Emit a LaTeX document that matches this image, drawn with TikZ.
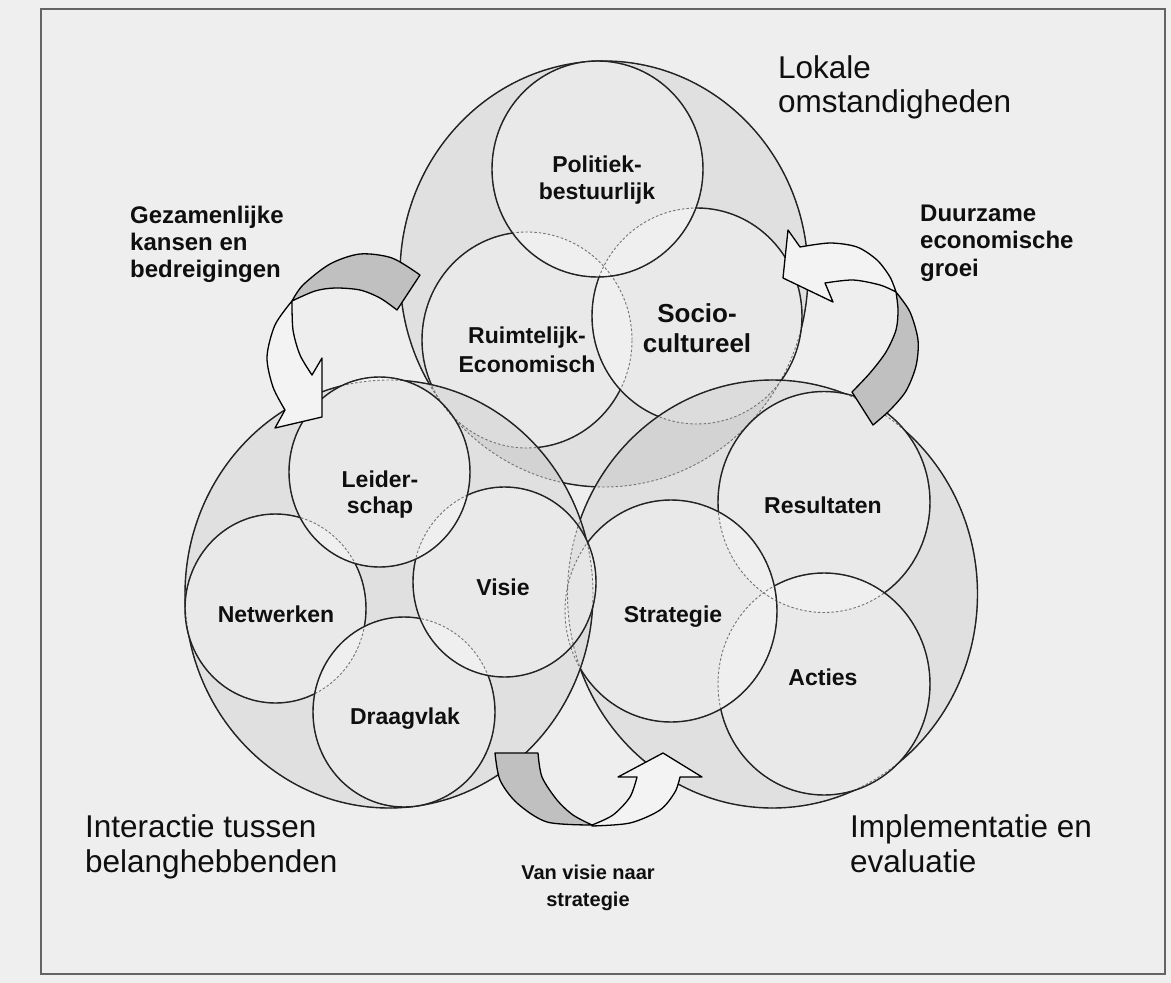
\documentclass[tikz,border=0pt]{standalone}
\usepackage{fontspec}
\setmainfont{Liberation Sans}
\definecolor{bgc}{RGB}{239,239,239}
\definecolor{framec}{RGB}{100,100,100}
\definecolor{innerc}{RGB}{238,238,238}
\definecolor{linec}{RGB}{35,35,35}
\definecolor{hidc}{RGB}{115,115,115}
\definecolor{arrgray}{RGB}{192,192,192}
\definecolor{arrwhite}{RGB}{243,243,243}
\definecolor{txtc}{RGB}{15,15,15}
% shapes (image coordinates, y downwards)
\newcommand{\EbT}{(604,274) ellipse [x radius=204pt, y radius=213pt]}
\newcommand{\EsR}{(527,340) ellipse [x radius=105pt, y radius=108pt]}
\newcommand{\EsS}{(697,316) ellipse [x radius=105pt, y radius=108pt]}
\newcommand{\EsP}{(597.5,169) ellipse [x radius=105.5pt, y radius=108pt]}
\newcommand{\EbR}{(772.5,594) ellipse [x radius=205pt, y radius=214pt]}
\newcommand{\EsRe}{(824,502) ellipse [x radius=106pt, y radius=110.5pt]}
\newcommand{\EsAc}{(824,684) ellipse [x radius=106pt, y radius=111pt]}
\newcommand{\EsSt}{(671,611) ellipse [x radius=106pt, y radius=111pt]}
\newcommand{\EbL}{(389,594) ellipse [x radius=204pt, y radius=214pt]}
\newcommand{\EsNe}{(275.5,608.5) ellipse [x radius=90.5pt, y radius=94.5pt]}
\newcommand{\EsDr}{(404,712) ellipse [x radius=91pt, y radius=95pt]}
\newcommand{\EsVi}{(504.5,582) ellipse [x radius=91.5pt, y radius=95pt]}
\newcommand{\EsLe}{(379.5,472) ellipse [x radius=90.5pt, y radius=95pt]}
\newcommand{\RR}{(-300,-300) -- (1500,-300) -- (1500,1300) -- (-300,1300) -- cycle}
\newcommand{\cutout}[1]{\clip \RR #1;}
\begin{document}
\begin{tikzpicture}[x=1pt,y=-1pt,
  bigfill/.style={fill=black, fill opacity=0.055},
  smallfill/.style={fill=white, fill opacity=0.31},
  solidline/.style={draw=linec, line width=1.4pt},
  hidline/.style={draw=hidc, line width=0.9pt, dash pattern=on 2.5pt off 2pt},
  arrowpart/.style={draw=black, line width=1.3pt, line join=round},
  biglab/.style={font=\fontsize{31.5}{35}\selectfont, text=txtc, anchor=base west, inner sep=0pt},
  sidelab/.style={font=\bfseries\fontsize{24}{27}\selectfont, text=txtc, anchor=base west, inner sep=0pt},
  inlab/.style={font=\bfseries\fontsize{23}{27}\selectfont, text=txtc, anchor=base, inner sep=0pt},
  soclab/.style={font=\bfseries\fontsize{26}{30}\selectfont, text=txtc, anchor=base, inner sep=0pt},
  vanlab/.style={font=\bfseries\fontsize{20}{26}\selectfont, text=txtc, anchor=base, inner sep=0pt}]
\useasboundingbox (0,0) rectangle (1171,983);
\fill[bgc] (0,0) rectangle (1171,983);
\filldraw[fill=innerc, draw=framec, line width=2pt] (41,9) rectangle (1165,974);
% fills in stacking order
\fill[bigfill] \EbT;
\fill[smallfill] \EsR;
\fill[smallfill] \EsS;
\fill[smallfill] \EsP;
\fill[bigfill] \EbR;
\fill[smallfill] \EsRe;
\fill[smallfill] \EsAc;
\fill[smallfill] \EsSt;
\fill[bigfill] \EbL;
\fill[smallfill] \EsNe;
\fill[smallfill] \EsDr;
\fill[smallfill] \EsVi;
\fill[smallfill] \EsLe;
% hidden (dashed) outlines
\draw[hidline] \EbT; \draw[hidline] \EsR; \draw[hidline] \EsS; \draw[hidline] \EsP;
\draw[hidline] \EbR; \draw[hidline] \EsRe; \draw[hidline] \EsAc; \draw[hidline] \EsSt;
\draw[hidline] \EbL; \draw[hidline] \EsNe; \draw[hidline] \EsDr; \draw[hidline] \EsVi;
\draw[hidline] \EsLe;
% visible (solid) outlines
\begin{scope}\cutout\EsR\cutout\EsS\cutout\EsP\cutout\EbR\cutout\EsRe\cutout\EsAc\cutout\EsSt\cutout\EbL\cutout\EsNe\cutout\EsDr\cutout\EsVi\cutout\EsLe
\draw[solidline] \EbT;\end{scope}
\begin{scope}\cutout\EsS\cutout\EsP\cutout\EbR\cutout\EsRe\cutout\EsAc\cutout\EsSt\cutout\EbL\cutout\EsNe\cutout\EsDr\cutout\EsVi\cutout\EsLe
\draw[solidline] \EsR;\end{scope}
\begin{scope}\cutout\EsP\cutout\EbR\cutout\EsRe\cutout\EsAc\cutout\EsSt\cutout\EbL\cutout\EsNe\cutout\EsDr\cutout\EsVi\cutout\EsLe
\draw[solidline] \EsS;\end{scope}
\begin{scope}\cutout\EbR\cutout\EsRe\cutout\EsAc\cutout\EsSt\cutout\EbL\cutout\EsNe\cutout\EsDr\cutout\EsVi\cutout\EsLe
\draw[solidline] \EsP;\end{scope}
\begin{scope}\cutout\EsRe\cutout\EsAc\cutout\EsSt\cutout\EbL\cutout\EsNe\cutout\EsDr\cutout\EsVi\cutout\EsLe
\draw[solidline] \EbR;\end{scope}
\begin{scope}\cutout\EsAc\cutout\EsSt\cutout\EbL\cutout\EsNe\cutout\EsDr\cutout\EsVi\cutout\EsLe
\draw[solidline] \EsRe;\end{scope}
\begin{scope}\cutout\EsSt\cutout\EbL\cutout\EsNe\cutout\EsDr\cutout\EsVi\cutout\EsLe
\draw[solidline] \EsAc;\end{scope}
\begin{scope}\cutout\EbL\cutout\EsNe\cutout\EsDr\cutout\EsVi\cutout\EsLe
\draw[solidline] \EsSt;\end{scope}
\begin{scope}\cutout\EsNe\cutout\EsDr\cutout\EsVi\cutout\EsLe
\draw[solidline] \EbL;\end{scope}
\begin{scope}\cutout\EsDr\cutout\EsVi\cutout\EsLe
\draw[solidline] \EsNe;\end{scope}
\begin{scope}\cutout\EsVi\cutout\EsLe
\draw[solidline] \EsDr;\end{scope}
\begin{scope}\cutout\EsLe
\draw[solidline] \EsVi;\end{scope}
\draw[solidline] \EsLe;
% curved arrows
\filldraw[arrowpart, fill=arrgray] plot[smooth] coordinates {(292,301) (303,285) (330,264) (360,254) (392,258) (420,275)} -- (397,310) -- plot[smooth] coordinates {(397,310) (380,298) (360,290) (335,288) (315,291) (292,301)} -- cycle;
\filldraw[arrowpart, fill=arrwhite] plot[smooth] coordinates {(292,301) (275,325) (267,357) (273,387) (285,410)} -- (275,428) -- (322,417) -- (322,358) -- (312,375) -- plot[smooth] coordinates {(312,375) (300,355) (293,330) (292,301)} -- cycle;
\filldraw[arrowpart, fill=arrgray] plot[smooth] coordinates {(896,292) (910,312) (918,340) (916,366) (906,391) (890,410) (873,425)} -- (852,392) -- plot[smooth] coordinates {(852,392) (870,373) (886,352) (896,330) (898,310) (896,292)} -- cycle;
\filldraw[arrowpart, fill=arrwhite] (783,278) -- (788,230) -- (800,247) -- plot[smooth] coordinates {(800,247) (830,243) (857,247) (877,260) (890,277) (896,292)} -- plot[smooth] coordinates {(896,292) (880,285) (853,280) (825,283)} -- (833,302) -- cycle;
\filldraw[arrowpart, fill=arrgray] (495,753) -- (538,753) -- plot[smooth] coordinates {(538,753) (542,777) (557,800) (573,815) (592,825)} -- plot[smooth] coordinates {(592,825) (547,822) (517,803) (500,780) (495,753)} -- cycle;
\filldraw[arrowpart, fill=arrwhite] plot[smooth] coordinates {(592,826) (630,823) (660,810) (675,792) (680,777)} -- (702,777) -- (663,753) -- (618,777) -- (637,777) -- plot[smooth] coordinates {(637,777) (630,797) (613,815) (592,825)} -- cycle;
% outer labels
\node[biglab] (lok1) at (778,78) {Lokale};
\node[biglab] (lok2) at (778,112) {omstandigheden};
\node[biglab] (int1) at (85,837) {Interactie tussen};
\node[biglab] (int2) at (85,872) {belanghebbenden};
\node[biglab] (imp1) at (850,837) {Implementatie en};
\node[biglab] (imp2) at (850,872) {evaluatie};
\node[sidelab] (gez1) at (130,223) {Gezamenlijke};
\node[sidelab] (gez2) at (130,250) {kansen en};
\node[sidelab] (gez3) at (130,277) {bedreigingen};
\node[sidelab] (duu1) at (920,221) {Duurzame};
\node[sidelab] (duu2) at (920,248) {economische};
\node[sidelab] (duu3) at (920,276) {groei};
\node[vanlab] (van1) at (588,879) {Van visie naar};
\node[vanlab] (van2) at (588,906) {strategie};
% inner labels
\node[inlab] (pol1) at (597,172) {Politiek-};
\node[inlab] (pol2) at (597,199) {bestuurlijk};
\node[inlab] (rui1) at (527,343) {Ruimtelijk-};
\node[inlab] (rui2) at (527,372) {Economisch};
\node[soclab] (soc1) at (697,322) {Socio-};
\node[soclab] (soc2) at (697,352) {cultureel};
\node[inlab] (lei1) at (380,487) {Leider-};
\node[inlab] (lei2) at (380,513) {schap};
\node[inlab] (net) at (276,622) {Netwerken};
\node[inlab] (vis) at (503,595) {Visie};
\node[inlab] (dra) at (405,724) {Draagvlak};
\node[inlab] (res) at (823,513) {Resultaten};
\node[inlab] (str) at (673,622) {Strategie};
\node[inlab] (act) at (823,685) {Acties};
\end{tikzpicture}
\end{document}
